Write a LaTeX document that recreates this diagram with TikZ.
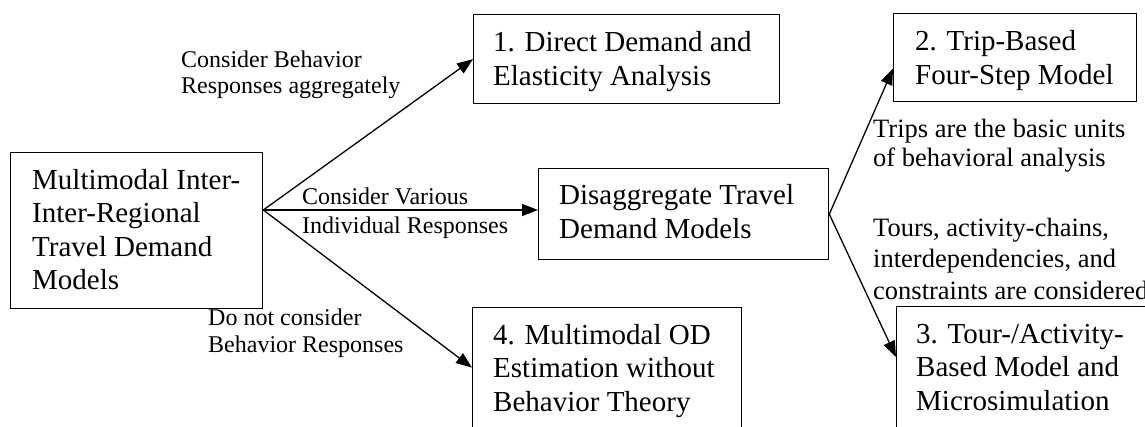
\documentclass[tikz,border=0pt]{standalone}
\usepackage{fontspec}
\setmainfont{Liberation Serif}
\usetikzlibrary{arrows.meta}
\begin{document}
\begin{tikzpicture}[x=1pt,y=-1pt,
  box/.style={draw, line width=1.3pt, rectangle, anchor=north west, inner sep=0pt},
  big/.style={anchor=base west, inner sep=0pt, align=left, font=\fontsize{29}{33.5}\selectfont},
  small/.style={anchor=base west, inner sep=0pt, align=left},
  arr/.style={line width=1.3pt, -{Triangle[length=16pt,width=12pt]}}]
\useasboundingbox (0,0) rectangle (1145,426);
\clip (0,0) rectangle (1145,426);
\fill[white] (0,0) rectangle (1145,426);
% boxes (text nodes anchored at the baseline of their last line)
\node[box, minimum width=252pt, minimum height=156pt] (m) at (10,152) {};
\node[big] (mt) at ([xshift=22pt,yshift=-137.5pt]m.north west) {Multimodal Inter-\\Inter-Regional\\Travel Demand\\Models};
\node[box, minimum width=306pt, minimum height=89pt] (b1) at (473,14) {};
\node[big] (b1t) at ([xshift=20pt,yshift=-71pt]b1.north west) {1. Direct Demand and\\Elasticity Analysis};
\node[box, minimum width=290pt, minimum height=91pt] (dis) at (538,168) {};
\node[big] (dist) at ([xshift=21pt,yshift=-70pt]dis.north west) {Disaggregate Travel\\Demand Models};
\node[box, minimum width=269pt, minimum height=130pt] (b4) at (472,307) {};
\node[big] (b4t) at ([xshift=21pt,yshift=-104pt]b4.north west) {4. Multimodal OD\\Estimation without\\Behavior Theory};
\node[box, minimum width=243pt, minimum height=88pt] (b2) at (893,13) {};
\node[big] (b2t) at ([xshift=22pt,yshift=-71pt]b2.north west) {2. Trip-Based\\Four-Step Model};
\node[box, minimum width=300pt, minimum height=130pt] (b3) at (896,306) {};
\node[big] (b3t) at ([xshift=20pt,yshift=-104pt]b3.north west) {3. Tour-/Activity-\\Based Model and\\Microsimulation};
% labels
\node[small, font=\fontsize{24}{26}\selectfont] (l1) at (181,93) {Consider Behavior\\Responses aggregately};
\node[small, font=\fontsize{24}{29}\selectfont] (l2) at (302,233) {Consider Various\\Individual Responses};
\node[small, font=\fontsize{24}{27}\selectfont] (l3) at (208,352) {Do not consider\\Behavior Responses};
\node[small, font=\fontsize{26.5}{29}\selectfont] (l4) at (873,166) {Trips are the basic units\\of behavioral analysis};
\node[small, font=\fontsize{26.5}{31.5}\selectfont] (l5) at (873,299) {Tours, activity-chains,\\interdependencies, and\\constraints are considered};
% connectors
\coordinate (A) at (m.east |- 0,210);
\draw[arr] (A) -- (b1.west);
\draw[arr] (A) -- (dis.west |- A);
\draw[arr] (A) -- ([yshift=5pt]b4.west);
\draw[arr] (dis.east) -- ([yshift=-11pt]b2.west);
\draw[arr] (dis.east) -- ([yshift=-51pt]b3.north west);
\end{tikzpicture}
\end{document}
